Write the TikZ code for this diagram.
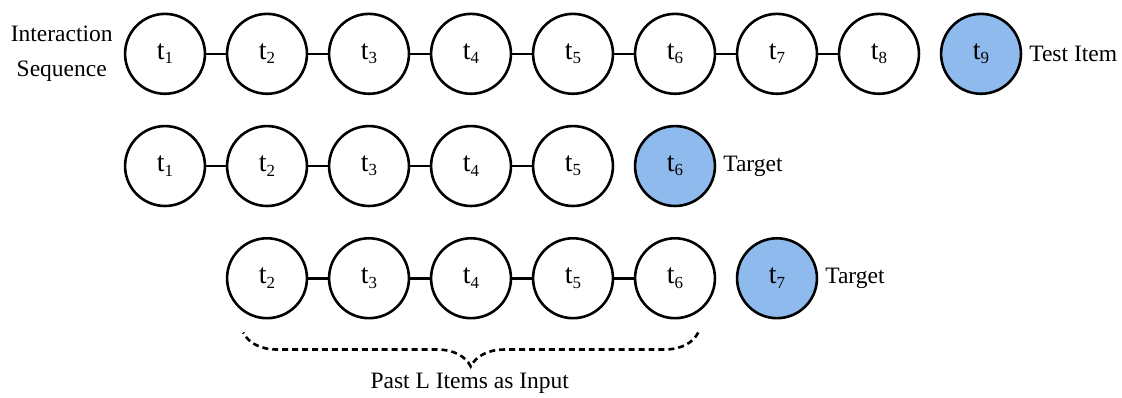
\documentclass[tikz,border=0pt]{standalone}
\usepackage{fontspec}
\setmainfont{Liberation Serif}
\usepackage{tikz}
\usetikzlibrary{calc,decorations.pathreplacing}
\definecolor{ItemBlue}{HTML}{8EBAED}

% item label: t with a lowered index
\newcommand{\itm}[1]{t\raisebox{-2.2pt}{\fontsize{8.5}{9}\selectfont #1}}

\tikzset{
    seqitem/.style={circle, draw, line width=1.3pt, minimum size=1.41cm, inner sep=0pt,
        font=\fontsize{14}{16}\selectfont},
    testitem/.style={seqitem, fill=ItemBlue},
    link/.style={line width=1.3pt}
}

\begin{document}
\begin{tikzpicture}[font=\fontsize{11.8}{17.6}\selectfont]
    \useasboundingbox (0,0) rectangle (19.8,-7.02);

    % Full interaction sequence
    \node[align=center] (seqlabel) at (1.09,-0.95) {Interaction\\Sequence};
    \node[seqitem] (a1) at (2.912,-0.95) {\itm{1}};
    \node[seqitem] (a2) at (4.712,-0.95) {\itm{2}};
    \node[seqitem] (a3) at (6.512,-0.95) {\itm{3}};
    \node[seqitem] (a4) at (8.312,-0.95) {\itm{4}};
    \node[seqitem] (a5) at (10.112,-0.95) {\itm{5}};
    \node[seqitem] (a6) at (11.912,-0.95) {\itm{6}};
    \node[seqitem] (a7) at (13.712,-0.95) {\itm{7}};
    \node[seqitem] (a8) at (15.512,-0.95) {\itm{8}};
    \node[testitem] (a9) at (17.312,-0.95) {\itm{9}};
    \node[anchor=west] (testlabel) at (a9.east) {Test Item};
    \draw[link] (a1) -- (a2) (a2) -- (a3) (a3) -- (a4) (a4) -- (a5)
        (a5) -- (a6) (a6) -- (a7) (a7) -- (a8);

    % First training window
    \node[seqitem] (b1) at (2.912,-2.93) {\itm{1}};
    \node[seqitem] (b2) at (4.712,-2.93) {\itm{2}};
    \node[seqitem] (b3) at (6.512,-2.93) {\itm{3}};
    \node[seqitem] (b4) at (8.312,-2.93) {\itm{4}};
    \node[seqitem] (b5) at (10.112,-2.93) {\itm{5}};
    \node[testitem] (b6) at (11.912,-2.93) {\itm{6}};
    \node[anchor=west] (targetb) at (b6.east) {Target};
    \draw[link] (b1) -- (b2) (b2) -- (b3) (b3) -- (b4) (b4) -- (b5);

    % Second training window
    \node[seqitem] (c2) at (4.712,-4.91) {\itm{2}};
    \node[seqitem] (c3) at (6.512,-4.91) {\itm{3}};
    \node[seqitem] (c4) at (8.312,-4.91) {\itm{4}};
    \node[seqitem] (c5) at (10.112,-4.91) {\itm{5}};
    \node[seqitem] (c6) at (11.912,-4.91) {\itm{6}};
    \node[testitem] (c7) at (13.712,-4.91) {\itm{7}};
    \node[anchor=west] (targetc) at (c7.east) {Target};
    \draw[link] (c2) -- (c3) (c3) -- (c4) (c4) -- (c5) (c5) -- (c6);

    % Input brace
    \coordinate (bl) at ($(c2.south)+(-0.42,-0.23)$);
    \coordinate (br) at ($(c6.south)+(0.41,-0.23)$);
    \draw[line width=1.3pt, dash pattern=on 3pt off 2pt, decorate,
        decoration={brace, amplitude=0.6cm}] (br) -- (bl);
    \node (inputlabel) at (8.29,-6.76) {Past L Items as Input};

\end{tikzpicture}
\end{document}
